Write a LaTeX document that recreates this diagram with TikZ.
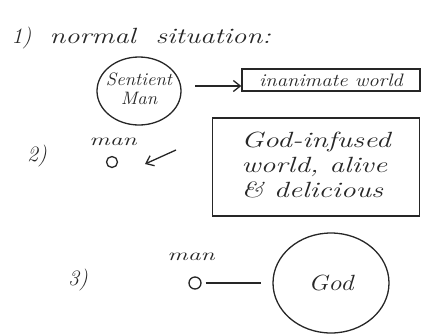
\documentclass[tikz,border=0pt]{standalone}
\usetikzlibrary{arrows.meta,shapes.geometric}
\newcommand\hwide[2]{\scalebox{#1}[1]{#2}}
\begin{document}
\begin{tikzpicture}[x=1pt,y=-1pt,
  ink/.style={draw=black!85,line width=1.3pt},
  hand/.style={font=\fontsize{22}{25}\selectfont\itshape,text=black!85},
  mid/.style={font=\fontsize{18}{19}\selectfont\itshape,text=black!85},
  small/.style={font=\fontsize{17}{18}\selectfont\itshape,text=black!85},
  arr/.style={ink,-{Straight Barb[length=7pt,width=11pt]}}]
\useasboundingbox (0,0) rectangle (425,333);
% 1)
\node[hand,anchor=west] (t1) at (8,38) {1)};
\node[hand,anchor=west] (t1b) at (46,36) {\hwide{1.3}{normal\ \ situation:}};
\node[ellipse,ink,mid,minimum width=84pt,minimum height=68pt,inner sep=-9pt] (sm) at (139,91) {\hwide{1.05}{\begin{tabular}{@{}c@{}}Sentient\\Man\end{tabular}}};
\node[ink,mid,minimum width=178pt,minimum height=22pt,inner sep=0pt] (iw) at (331,80) {\hwide{1.15}{inanimate world}};
\coordinate (a1) at (195,86);
\draw[arr] (a1) -- (iw.west |- a1);
% 2)
\node[hand] (t2) at (37,156) {2)};
\node[small] (m2) at (113,142) {\hwide{1.5}{man}};
\node[circle,ink,minimum size=11pt,inner sep=0pt] (o2) at (112,162) {};
\node[ink,hand,minimum width=207pt,minimum height=98pt] (gw) at (316,167) {\hwide{1.35}{\begin{tabular}{@{}l@{}}God-infused\\world, alive\\\& delicious\end{tabular}}};
\coordinate (a2s) at (176,150);
\coordinate (a2e) at (145,164);
\draw[arr] (a2s) -- (a2e);
% 3)
\node[hand] (t3) at (78,280) {3)};
\node[small] (m3) at (191,257) {\hwide{1.5}{man}};
\node[circle,ink,minimum size=12pt,inner sep=0pt] (o3) at (195,283) {};
\node[ellipse,ink,hand,minimum width=116pt,minimum height=100pt,inner sep=0pt] (god) at (331,283) {\hwide{1.2}{God}};
\draw[ink,shorten <=4pt,shorten >=11pt] (o3.east) -- (god.west);
\end{tikzpicture}
\end{document}
